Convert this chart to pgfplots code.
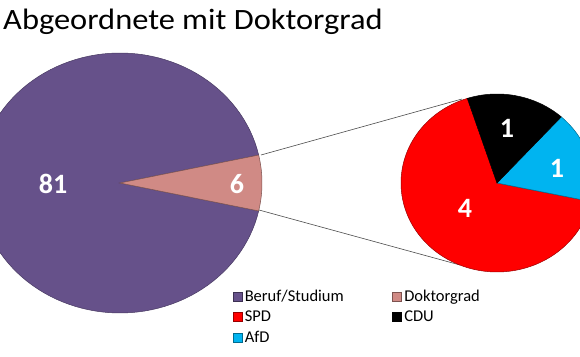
\documentclass[border=0pt]{standalone}
\usepackage{fontspec}
\setmainfont{Carlito}
\usepackage{pgfplots}
\usepackage{pgfplotstable}
\pgfplotsset{compat=1.18}
\definecolor{purp}{HTML}{66518A}
\definecolor{pinkk}{HTML}{D08A85}
\definecolor{spdred}{HTML}{FF0000}
\definecolor{afdblue}{HTML}{00B4F0}

\pgfplotstableread{
name value
Beruf/Studium 81
Doktorgrad 6
}\maintab
\pgfplotstableread{
name value
SPD 4
CDU 1
AfD 1
}\subtab

\begin{document}
\begin{tikzpicture}
\pgfplotstablegetelem{0}{value}\of\maintab \let\vBeruf\pgfplotsretval
\pgfplotstablegetelem{1}{value}\of\maintab \let\vDok\pgfplotsretval
\pgfplotstablegetelem{0}{value}\of\subtab \let\vSPD\pgfplotsretval
\pgfplotstablegetelem{1}{value}\of\subtab \let\vCDU\pgfplotsretval
\pgfplotstablegetelem{2}{value}\of\subtab \let\vAfD\pgfplotsretval
\pgfmathsetmacro\aDok{360*\vDok/(\vBeruf+\vDok)}
\pgfmathsetmacro\aStart{-\aDok/2}
\pgfmathsetmacro\aMid{\aDok/2}
\pgfmathsetmacro\aEnd{360-\aDok/2}
\pgfmathsetmacro\subtot{\vSPD+\vCDU+\vAfD}
\pgfmathsetmacro\sA{108}
\pgfmathsetmacro\sB{\sA+360*\vSPD/\subtot}
\pgfmathsetmacro\sC{\sB+360*\vAfD/\subtot}
\pgfmathsetmacro\sD{\sC+360*\vCDU/\subtot}
\begin{axis}[
  scale only axis, width=580bp, height=357bp,
  xmin=0, xmax=580, ymin=0, ymax=357,
  hide axis,
  legend columns=2,
  legend cell align=left,
  legend image code/.code={\draw[#1, line width=0.4bp] (-2bp,-4.5bp) rectangle (7bp,4.5bp);},
  legend style={
    at={(axis description cs:0.396,0.197)}, anchor=north west,
    draw=none, fill=none,
    font=\fontsize{16.5bp}{18bp}\selectfont,
    row sep=6bp,
    nodes={inner xsep=2.5bp, inner ysep=1bp},
    /tikz/every even column/.append style={column sep=46bp},
    /tikz/every odd column/.append style={column sep=0bp},
  },
]
% big pie
\addplot[fill=purp, draw=purp!70!black, line width=0.5bp, domain=\aMid:\aEnd, samples=120, forget plot]
  ({120+142*cos(x)}, {174+130*sin(x)}) -- (axis cs:120,174) -- cycle;
\addplot[fill=pinkk, draw=pinkk!60!black, line width=0.5bp, domain=\aStart:\aMid, samples=20, forget plot]
  ({120+142*cos(x)}, {174+130*sin(x)}) -- (axis cs:120,174) -- cycle;
% connectors
\addplot[color=black!70, line width=0.6bp, forget plot] coordinates {(261,202) (462,258)};
\addplot[color=black!70, line width=0.6bp, forget plot] coordinates {(259,147) (460,92)};
% small pie
\addplot[fill=spdred, draw=spdred!60!black, line width=0.5bp, domain=\sA:\sB, samples=100, forget plot]
  ({497+96*cos(x)}, {174+89*sin(x)}) -- (axis cs:497,174) -- cycle;
\addplot[fill=afdblue, draw=afdblue!60!black, line width=0.5bp, domain=\sB:\sC, samples=30, forget plot]
  ({497+96*cos(x)}, {174+89*sin(x)}) -- (axis cs:497,174) -- cycle;
\addplot[fill=black, draw=black, line width=0.5bp, domain=\sC:\sD, samples=30, forget plot]
  ({497+96*cos(x)}, {174+89*sin(x)}) -- (axis cs:497,174) -- cycle;
% labels
\tikzset{lbl/.style={text=white, font=\bfseries\fontsize{28bp}{28bp}\selectfont, inner sep=0pt}}
\node[lbl] at (axis cs:53,173) {81};
\node[lbl] at (axis cs:237,173) {6};
\node[lbl] at (axis cs:507,229) {1};
\node[lbl] at (axis cs:557,189) {1};
\node[lbl] at (axis cs:465,149) {4};
% title
\node[anchor=base west, inner sep=0pt, xscale=1.1, font=\fontsize{29.5bp}{30bp}\selectfont] at (axis cs:3,327) {Abgeordnete mit Doktorgrad};
% legend
\addlegendimage{fill=purp, draw=purp!60!black}
\addlegendentry{Beruf/Studium}
\addlegendimage{fill=pinkk, draw=pinkk!60!black}
\addlegendentry{Doktorgrad}
\addlegendimage{fill=spdred, draw=spdred!60!black}
\addlegendentry{SPD}
\addlegendimage{fill=black, draw=black}
\addlegendentry{CDU}
\addlegendimage{fill=afdblue, draw=afdblue!60!black}
\addlegendentry{AfD}
\end{axis}
\pgfresetboundingbox
\useasboundingbox (0,0) rectangle (580bp,357bp);
\end{tikzpicture}
\end{document}
